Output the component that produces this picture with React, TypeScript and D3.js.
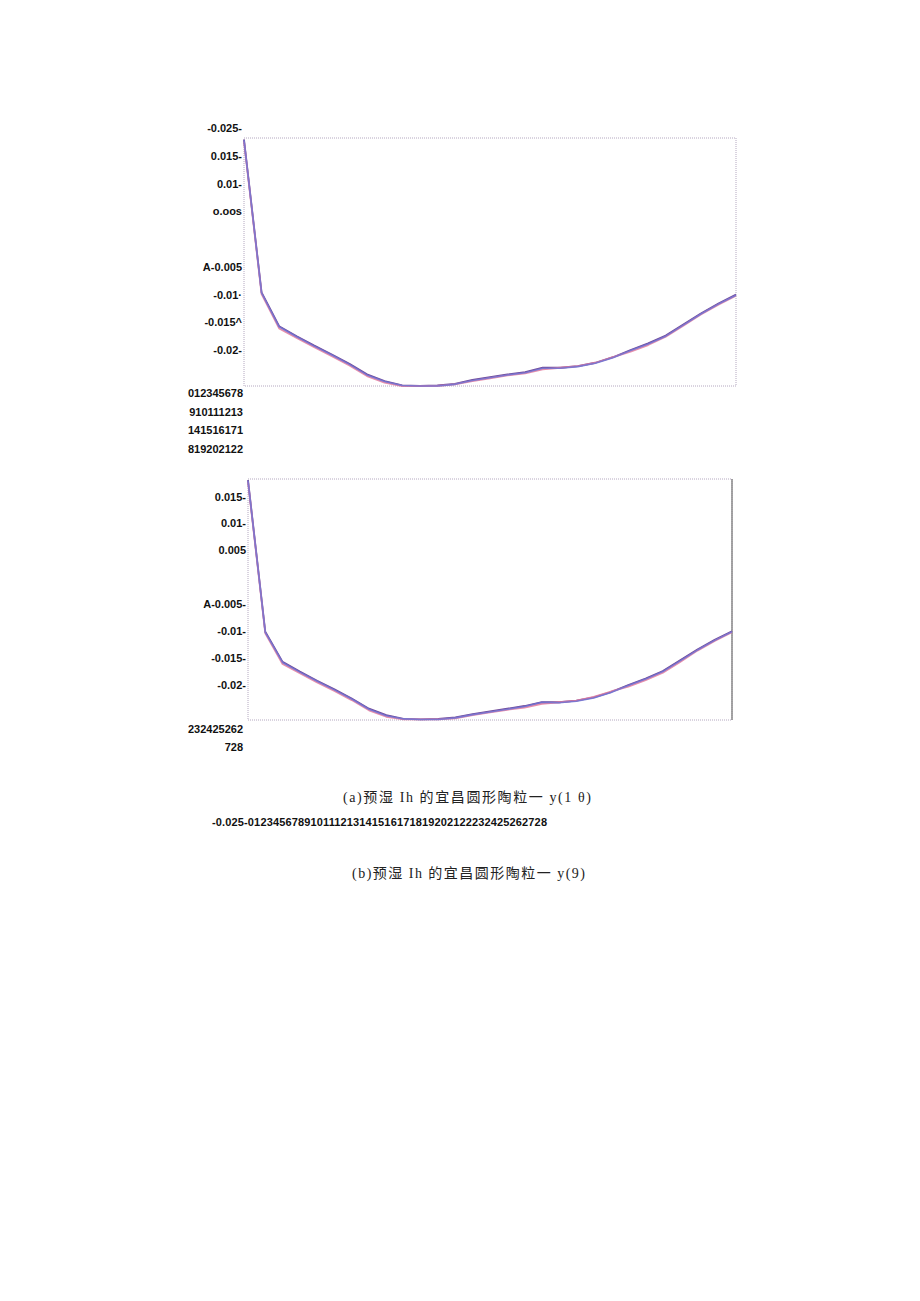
import React from "react";
import * as d3 from "d3";

// x positions 0..28 (29 samples per curve)
const xTicks = d3.range(0, 29);

// chart (a) three overlapping series
const aBlue = [0.0179, -0.0097, -0.0158, -0.0176, -0.0193, -0.0209, -0.0226, -0.0245, -0.0257, -0.0264, -0.0265, -0.0265, -0.0262, -0.0255, -0.0250, -0.0245, -0.0241, -0.0233, -0.0233, -0.0230, -0.0224, -0.0214, -0.0201, -0.0189, -0.0175, -0.0155, -0.0135, -0.0117, -0.0101];
const aPink = [0.0177, -0.0099, -0.0161, -0.0178, -0.0195, -0.0211, -0.0228, -0.0247, -0.0259, -0.0265, -0.0265, -0.0265, -0.0262, -0.0256, -0.0251, -0.0246, -0.0242, -0.0235, -0.0232, -0.0229, -0.0223, -0.0213, -0.0203, -0.0191, -0.0176, -0.0156, -0.0136, -0.0118, -0.0102];
const aPurple = [0.0180, -0.0096, -0.0157, -0.0175, -0.0192, -0.0208, -0.0225, -0.0244, -0.0256, -0.0264, -0.0265, -0.0264, -0.0261, -0.0254, -0.0249, -0.0244, -0.0240, -0.0232, -0.0232, -0.0229, -0.0223, -0.0213, -0.0200, -0.0188, -0.0174, -0.0154, -0.0134, -0.0116, -0.0100];

// chart (b)
const bBlue = [0.0180, -0.0102, -0.0158, -0.0176, -0.0193, -0.0209, -0.0226, -0.0245, -0.0257, -0.0263, -0.0264, -0.0264, -0.0261, -0.0255, -0.0250, -0.0245, -0.0240, -0.0232, -0.0233, -0.0230, -0.0224, -0.0214, -0.0201, -0.0189, -0.0175, -0.0155, -0.0135, -0.0117, -0.0101];
const bPink = [0.0178, -0.0104, -0.0161, -0.0178, -0.0195, -0.0211, -0.0228, -0.0247, -0.0259, -0.0264, -0.0264, -0.0264, -0.0262, -0.0256, -0.0251, -0.0246, -0.0242, -0.0235, -0.0232, -0.0229, -0.0222, -0.0212, -0.0203, -0.0191, -0.0177, -0.0157, -0.0136, -0.0118, -0.0102];
const bPurple = [0.0181, -0.0101, -0.0157, -0.0175, -0.0192, -0.0208, -0.0225, -0.0244, -0.0256, -0.0263, -0.0264, -0.0263, -0.0260, -0.0254, -0.0249, -0.0244, -0.0239, -0.0232, -0.0232, -0.0229, -0.0223, -0.0213, -0.0200, -0.0188, -0.0174, -0.0154, -0.0134, -0.0116, -0.0100];

// garbled y tick labels, as printed
const aTickValues = [0.02, 0.015, 0.01, 0.005, -0.005, -0.01, -0.015, -0.02];
const aTickLabels = ["-0.025-", "0.015-", "0.01-", "o.oos", "A-0.005", "-0.01·", "-0.015^", "-0.02-"];
const bTickValues = [0.015, 0.01, 0.005, -0.005, -0.01, -0.015, -0.02];
const bTickLabels = ["0.015-", "0.01-", "0.005", "A-0.005-", "-0.01-", "-0.015-", "-0.02-"];

const captionA = "(a)预湿 Ih 的宜昌圆形陶粒一 y(1 θ)";
const captionB = "(b)预湿 Ih 的宜昌圆形陶粒一 y(9)";

// drawn in order: purple underneath, pink, blue on top
const seriesColors = ["#5a2c86", "#e27a9c", "#7076d6"];

const tickFont = "'Liberation Sans', Arial, sans-serif";
const capFont = "'Liberation Serif', 'Noto Sans CJK SC', serif";

// the x tick numbers run together and wrap every 9 characters
const xString = xTicks.join("");
const xChunks: string[] = [];
for (let i = 0; i < xString.length; i += 9) xChunks.push(xString.slice(i, i + 9));

type PanelProps = {
  left: number; top: number; width: number; height: number;
  series: number[][]; tickValues: number[]; tickLabels: string[];
  rightEdge?: boolean;
};

function Panel(props: PanelProps) {
  const { left, top, width, height, series, tickValues, tickLabels } = props;
  const x = d3.scaleLinear().domain([0, 28]).range([left, left + width]);
  const y = d3.scaleLinear().domain([-0.0265, 0.0183]).range([top + height, top]);
  const line = d3.line<number>().x((d, i) => x(xTicks[i])).y(d => y(d));
  return (
    <g>
      <rect x={left} y={top} width={width} height={height} fill="none" stroke="#b4a8c0" strokeWidth={1} strokeDasharray="1,1" />
      {props.rightEdge && <line x1={left + width} x2={left + width} y1={top} y2={top + height} stroke="#8a8a8a" strokeWidth={1.5} />}
      {series.map((s, k) => (
        <path key={k} d={line(s) || ""} fill="none" stroke={seriesColors[k]} strokeWidth={k === 2 ? 1.6 : 1.8} strokeLinejoin="round" strokeOpacity={0.85} />
      ))}
      {tickValues.map((v, i) => (
        <text key={i} x={left - 2} y={y(v)} dy="0.35em" textAnchor="end" fontFamily={tickFont} fontWeight="bold" fontSize={11} fill="#111">
          {tickLabels[i]}
        </text>
      ))}
    </g>
  );
}

export default function App() {
  return (
    <svg width={920} height={1301} style={{ position: "absolute", left: 0, top: 0, background: "#fff" }}>
      <Panel left={244} top={138} width={492} height={248} series={[aPurple, aPink, aBlue]} tickValues={aTickValues} tickLabels={aTickLabels} />
      {xChunks.slice(0, 4).map((c, i) => (
        <text key={i} x={243} y={393 + i * 18.7} dy="0.35em" textAnchor="end" fontFamily={tickFont} fontWeight="bold" fontSize={11} fill="#111">{c}</text>
      ))}
      <Panel left={248} top={479} width={484} height={241} series={[bPurple, bPink, bBlue]} tickValues={bTickValues} tickLabels={bTickLabels} rightEdge />
      {xChunks.slice(4).map((c, i) => (
        <text key={i} x={243} y={729 + i * 18} dy="0.35em" textAnchor="end" fontFamily={tickFont} fontWeight="bold" fontSize={11} fill="#111">{c}</text>
      ))}
      <text x={343} y={797} dy="0.35em" fontFamily={capFont} fontSize={14} fill="#222" textLength={248} lengthAdjust="spacing">{captionA}</text>
      <text x={212} y={822} dy="0.35em" fontFamily={tickFont} fontWeight="bold" fontSize={11} fill="#111" textLength={335} lengthAdjust="spacing">{"-0.025-" + xString}</text>
      <text x={352} y={873} dy="0.35em" fontFamily={capFont} fontSize={14} fill="#222" textLength={233} lengthAdjust="spacing">{captionB}</text>
    </svg>
  );
}
